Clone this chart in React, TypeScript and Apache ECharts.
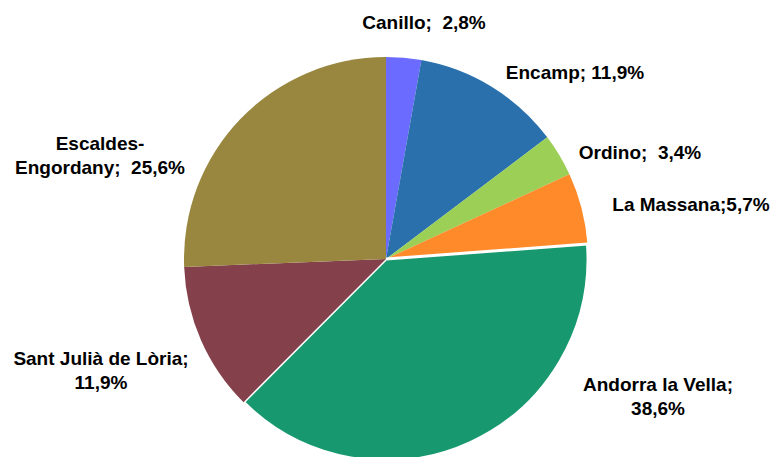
import React, { useEffect, useRef } from "react";
import * as echarts from "echarts";

const names = [
  "Canillo",
  "Encamp",
  "Ordino",
  "La Massana",
  "Andorra la Vella",
  "Sant Julià de Lòria",
  "Escaldes-Engordany",
];
const values = [2.8, 11.9, 3.4, 5.7, 38.6, 11.9, 25.6];
const labelTexts = [
  "Canillo;  2,8%",
  "Encamp; 11,9%",
  "Ordino;  3,4%",
  "La Massana;5,7%",
  "Andorra la Vella;\n38,6%",
  "Sant Julià de Lòria;\n11,9%",
  "Escaldes-\nEngordany;  25,6%",
];
const colors = ["#6B6BFF", "#2970AC", "#9BCF55", "#FF8A2A", "#18986E", "#84414B", "#99873F"];
const labelPos: [number, number][] = [
  [424, 22],
  [575, 72],
  [640, 152],
  [691, 204],
  [658, 396],
  [101, 370],
  [100, 155],
];
const highlighted = 4;

export default function App() {
  const ref = useRef<HTMLDivElement>(null);
  useEffect(() => {
    document.body.style.margin = "0";
    const chart = echarts.init(ref.current!, null, { renderer: "svg" });
    chart.setOption({
      animation: false,
      backgroundColor: "#ffffff",
      series: [
        {
          type: "pie",
          center: [386, 259],
          radius: 202,
          startAngle: 90,
          clockwise: true,
          selectedMode: false,
          emphasis: { disabled: true },
          labelLine: { show: false },
          label: {
            show: true,
            position: "outside",
            alignTo: "none",
            overflow: "none",
            color: "#000",
            fontFamily: "Liberation Sans, Arial, sans-serif",
            fontWeight: "bold",
            fontSize: 19,
            lineHeight: 24,
            align: "center",
            formatter: (p: any) => labelTexts[p.dataIndex],
          },
          labelLayout: (p: any) => ({
            x: labelPos[p.dataIndex][0],
            y: labelPos[p.dataIndex][1],
            align: "center",
            verticalAlign: "middle",
          }),
          data: names.map((n, i) => ({
            name: n,
            value: values[i],
            itemStyle: {
              color: colors[i],
              borderColor: i === highlighted ? "#ffffff" : colors[i],
              borderWidth: i === highlighted ? 3 : 0,
            },
          })),
        },
      ],
    });
    return () => chart.dispose();
  }, []);
  return <div ref={ref} style={{ width: 780, height: 457 }} />;
}
